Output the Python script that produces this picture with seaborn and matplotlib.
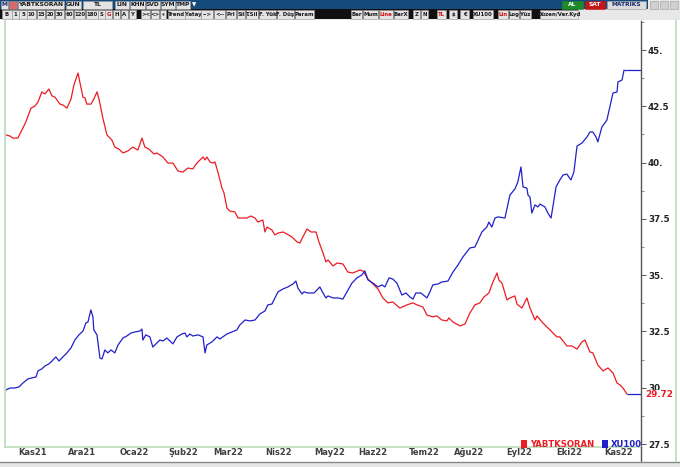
import numpy as np
import pandas as pd
import seaborn as sns
import matplotlib
matplotlib.use("Agg")
import matplotlib.pyplot as plt
from matplotlib.patches import Rectangle, Patch
import matplotlib.transforms as mtransforms

# ---------------- data (trading-day index, value) ----------------
red_day = [0, 1.8, 3.1, 5.3, 7.1, 8.8, 11.1, 12.8, 14.2, 15.9, 17.3, 19.0, 20.4, 21.7, 23.9, 25.2,
           27.0, 28.8, 30.1, 31.9, 32.7, 34.1, 35.0, 35.8, 37.6, 38.5, 40.3, 41.2, 42.9, 44.7, 46.9,
           48.2, 50.0, 51.8, 54.0, 56.2, 58.4, 60.2, 61.5, 63.3, 65.5, 66.8, 69.5, 71.7, 73.9, 76.1,
           78.3, 80.5, 82.7, 84.5, 87.2, 88.1, 88.9, 90.3, 91.6, 92.5, 93.8, 95.6, 96.5, 97.8, 99.1,
           101.3, 102.7, 104.4, 106.6, 108.4, 110.2, 111.5, 113.7, 114.6, 115.5, 117.7, 119.0, 120.4,
           122.6, 124.3, 126.5, 128.8, 130.1, 131.4, 133.2, 135.0, 137.2, 138.5, 140.3, 141.6, 142.5,
           144.7, 146.5, 149.1, 151.3, 153.5, 156.6, 158.0, 160.2, 162.4, 164.6, 166.8, 169.0, 171.2,
           174.3, 177.4, 180.1, 181.9, 184.5, 186.3, 188.9, 190.7, 192.9, 195.1, 196.0, 197.8, 200.9,
           203.1, 205.3, 207.5, 209.7, 211.5, 213.7, 215.5, 217.3, 218.1, 219.5, 221.7, 223.0, 225.2,
           226.1, 228.3, 230.5, 231.9, 234.1, 235.0, 237.2, 239.4, 241.6, 243.8, 245.1, 248.2, 250.4,
           252.7, 254.9, 256.2, 258.4, 259.7, 261.9, 264.2, 266.4, 268.6, 270.4, 271.7, 273.0, 274.8]
red_val = [41.23, 41.18, 41.09, 41.09, 41.45, 41.80, 42.42, 42.51, 42.69, 43.14, 43.05, 43.27, 42.96,
           42.91, 42.60, 42.56, 42.42, 42.82, 43.45, 43.98, 43.58, 42.91, 42.87, 42.60, 42.60, 42.74,
           43.14, 42.82, 41.98, 41.23, 41.00, 40.69, 40.60, 40.43, 40.52, 40.69, 40.56, 41.09, 40.69,
           40.60, 40.38, 40.43, 40.25, 39.98, 39.98, 39.63, 39.58, 39.76, 39.72, 39.98, 40.25, 40.12,
           40.25, 40.03, 39.98, 40.03, 39.58, 38.87, 38.65, 37.98, 37.85, 37.81, 37.54, 37.54, 37.54,
           37.63, 37.54, 37.36, 37.45, 36.92, 37.14, 37.01, 36.79, 36.87, 36.92, 36.83, 36.70, 36.48,
           36.43, 36.70, 37.05, 36.92, 36.92, 36.48, 35.99, 35.59, 35.68, 35.41, 35.54, 35.50, 35.14,
           35.10, 35.23, 35.19, 34.83, 34.61, 34.39, 33.99, 33.77, 33.81, 33.54, 33.68, 33.77, 33.68,
           33.59, 33.23, 33.15, 33.19, 33.01, 32.97, 33.10, 32.92, 32.75, 32.83, 33.32, 33.68, 33.77,
           34.03, 34.21, 34.70, 35.10, 34.79, 34.65, 33.90, 33.99, 34.08, 33.72, 33.54, 33.99, 33.54,
           33.01, 33.19, 32.92, 32.70, 32.48, 32.26, 32.26, 31.86, 31.86, 31.72, 32.04, 32.12, 31.59,
           31.55, 31.01, 30.75, 30.88, 30.66, 30.21, 30.13, 29.99, 29.72]

blue_day = [0, 1.8, 4.0, 5.8, 7.5, 9.7, 11.5, 13.3, 14.2, 15.9, 17.3, 19.0, 20.4, 22.1, 23.5, 25.2,
            27.0, 28.8, 30.5, 32.3, 34.1, 35.4, 36.3, 37.6, 38.5, 38.9, 40.3, 41.6, 42.5, 43.8, 45.1,
            46.5, 48.2, 49.6, 51.8, 53.5, 55.3, 57.1, 59.3, 60.2, 60.6, 61.9, 63.7, 65.0, 66.8, 68.1,
            69.5, 71.2, 73.9, 75.7, 77.9, 79.2, 80.1, 81.4, 82.7, 85.0, 87.2, 88.1, 88.9, 91.2, 93.4,
            94.7, 97.8, 100.0, 102.2, 103.5, 105.8, 108.0, 110.2, 112.4, 114.6, 115.9, 117.7, 120.4,
            122.6, 124.8, 127.0, 128.3, 129.2, 131.0, 131.9, 133.6, 136.3, 137.6, 138.9, 140.3, 141.6,
            142.5, 144.7, 146.9, 149.1, 150.9, 153.1, 155.3, 157.5, 158.8, 160.2, 162.4, 164.6, 166.4,
            167.7, 169.5, 171.2, 173.0, 175.2, 177.0, 178.8, 180.1, 181.4, 183.6, 186.3, 187.6, 188.9,
            191.2, 192.9, 195.6, 197.8, 200.0, 202.2, 205.3, 207.5, 210.6, 212.8, 213.7, 215.0, 216.4,
            217.7, 220.8, 223.0, 225.2, 226.5, 227.9, 228.8, 230.5, 231.0, 231.9, 232.7, 234.1, 235.4,
            236.3, 238.5, 239.8, 241.2, 242.0, 243.4, 245.1, 246.5, 248.2, 250.0, 251.3, 252.7, 254.9,
            257.1, 258.4, 259.7, 261.1, 261.9, 263.7, 265.9, 267.7, 268.6, 270.4, 270.8, 272.6, 273.5]
blue_val = [29.90, 29.99, 29.99, 30.04, 30.21, 30.39, 30.44, 30.48, 30.75, 30.84, 30.97, 31.06, 31.19,
            31.37, 31.19, 31.37, 31.55, 31.77, 32.12, 32.35, 32.52, 32.88, 32.92, 33.46, 33.15, 32.57,
            32.35, 31.32, 31.28, 31.68, 31.55, 31.68, 31.55, 31.90, 32.21, 32.30, 32.43, 32.48, 32.52,
            32.61, 32.12, 32.35, 32.26, 31.81, 31.99, 32.12, 32.08, 32.21, 31.95, 32.26, 32.39, 32.43,
            32.26, 32.39, 32.30, 32.35, 32.26, 31.55, 31.90, 32.04, 32.26, 32.17, 32.39, 32.48, 32.57,
            32.79, 33.01, 32.97, 33.01, 33.28, 33.41, 33.68, 33.72, 34.26, 34.39, 34.48, 34.61, 34.74,
            34.43, 34.17, 34.26, 34.21, 34.21, 34.34, 34.48, 34.21, 33.99, 34.08, 33.99, 33.99, 33.94,
            34.26, 34.65, 34.88, 35.01, 35.19, 34.79, 34.65, 34.48, 34.57, 34.48, 34.88, 34.83, 34.65,
            34.12, 34.21, 34.03, 33.94, 34.21, 34.21, 33.99, 34.26, 34.57, 34.61, 34.70, 34.74, 35.14,
            35.45, 35.81, 36.21, 36.25, 36.92, 37.14, 37.36, 37.14, 37.54, 37.59, 37.54, 38.56, 38.83,
            39.14, 39.81, 38.92, 38.87, 38.56, 38.47, 37.76, 38.12, 38.03, 38.16, 38.03, 37.76, 37.54,
            38.03, 38.92, 39.23, 39.45, 39.49, 39.23, 39.58, 40.74, 40.87, 41.14, 41.36, 41.36, 41.14,
            40.92, 41.58, 41.89, 42.69, 43.09, 43.14, 43.58, 43.67, 44.11]

month_pos = [4.4, 26.5, 49.6, 70.8, 90.7, 113.7, 135.4, 154.9, 177.4, 197.3, 220.4, 242.5, 263.7]
month_labels = ["Kas21", "Ara21", "Oca22", "Şub22", "Mar22", "Nis22", "May22", "Haz22",
                "Tem22", "Ağu22", "Eyl22", "Eki22", "Kas22"]
y_ticks = [27.5, 30.0, 32.5, 35.0, 37.5, 40.0, 42.5, 45.0]
series_names = ["YABTKSORAN", "XU100"]
last_label = "29.72"

RED = "#ec1c24"
BLUE = "#2020c8"

# ---------------- figure ----------------
sns.set_style("white")
plt.rcParams["font.family"] = ["DejaVu Sans"]
W, H = 680, 467
fig = plt.figure(figsize=(W / 100, H / 100), dpi=100)
fig.patch.set_facecolor("white")

def fx(px):
    return px / W

def fy(py):
    return 1 - py / H

ax = fig.add_axes([fx(5), fy(447), (641 - 5) / W, (447 - 21) / H])
ax.set_facecolor("white")

red_df = pd.DataFrame({"day": red_day, "value": red_val})
blue_df = pd.DataFrame({"day": blue_day, "value": blue_val})
sns.lineplot(data=red_df, x="day", y="value", ax=ax, color=RED, lw=0.9,
             estimator=None, sort=False)
sns.lineplot(data=blue_df, x="day", y="value", ax=ax, color=BLUE, lw=0.9,
             estimator=None, sort=False)

XMAX = 281.0
ax.hlines(blue_val[-1], blue_day[-1], XMAX, color=BLUE, lw=0.9)
ax.hlines(red_val[-1], red_day[-1], XMAX, color=BLUE, lw=0.9)

ax.set_xlim(-0.4, XMAX)
ax.set_ylim(27.37, 46.29)
ax.set_xlabel("")
ax.set_ylabel("")

# spines
ax.spines["top"].set_visible(False)
ax.spines["left"].set_color("#b9dcb9")
ax.spines["left"].set_linewidth(1.2)
ax.spines["bottom"].set_color("#b9dcb9")
ax.spines["bottom"].set_linewidth(1.2)
ax.spines["right"].set_color("#555555")
ax.spines["right"].set_linewidth(1.0)

# right y axis
ax.yaxis.tick_right()
ax.set_yticks(y_ticks)
ax.set_yticklabels([f"{int(v)}." if float(v).is_integer() else f"{v:.1f}" for v in y_ticks],
                   fontsize=6.3, fontweight="bold", color="#222222")
ax.set_yticks([v + 1.25 for v in y_ticks], minor=True)
ax.tick_params(axis="y", which="major", direction="out", length=3.5, width=0.7,
               color="#555555", pad=1.5, left=False, right=True)
ax.tick_params(axis="y", which="minor", direction="out", length=2.5, width=0.6,
               color="#777777", left=False, right=True)

# x axis month labels: tick line then label to its right
ax.set_xticks(month_pos)
ax.set_xticklabels(month_labels, ha="left", fontsize=6.0, fontweight="bold", color="#3f3f3f")
ax.tick_params(axis="x", direction="out", length=7.5, width=0.7, color="#666666", pad=-6.5)
off = mtransforms.ScaledTranslation(1.5 / 72, 0, fig.dpi_scale_trans)
for lab in ax.get_xticklabels():
    lab.set_transform(lab.get_transform() + off)

# last value label (covers the lower part of the "30." tick label, as in the reference)
tr = mtransforms.blended_transform_factory(ax.transAxes, ax.transData)
ax.text(1.006, red_val[-1] - 0.04, last_label, transform=tr, color=RED, fontsize=6.3,
        fontweight="bold", va="center", ha="left", zorder=10,
        bbox=dict(facecolor="white", edgecolor="none", pad=0.3), clip_on=False)

# legend
handles = [Patch(facecolor=RED, edgecolor="none"), Patch(facecolor=BLUE, edgecolor="none")]
leg = ax.legend(handles, series_names, loc="lower left", bbox_to_anchor=(0.806, -0.012),
                ncol=2, frameon=False, handlelength=0.75, handleheight=1.05,
                handletextpad=0.3, columnspacing=0.9, borderaxespad=0,
                prop={"size": 6.1, "weight": "bold"})
for t, c in zip(leg.get_texts(), [RED, BLUE]):
    t.set_color(c)

# extend right axis line down through label strip
fig.add_artist(plt.Line2D([fx(641), fx(641)], [fy(447), fy(461)], color="#555555", lw=1.0))
# window borders
fig.add_artist(plt.Line2D([fx(676), fx(676)], [fy(20), fy(461)], color="#b9dcb9", lw=1.2))
fig.add_artist(Rectangle((0, 0), 1, fy(462), transform=fig.transFigure,
                         facecolor="#e6e6e6", edgecolor="none"))
fig.add_artist(plt.Line2D([0, 1], [fy(462), fy(462)], color="#888888", lw=1.0))

# ---------------- toolbar ----------------
def band(x0, y0, x1, y1, color):
    fig.add_artist(Rectangle((fx(x0), fy(y1)), (x1 - x0) / W, (y1 - y0) / H,
                             transform=fig.transFigure, facecolor=color, edgecolor="none"))

def button(x0, x1, y0, y1, text, color="#1a1a1a", face="#e4e4e4", edge="#9a9a9a", size=4.3):
    fig.add_artist(Rectangle((fx(x0), fy(y1)), (x1 - x0) / W, (y1 - y0) / H,
                             transform=fig.transFigure, facecolor=face, edgecolor=edge, lw=0.4))
    fig.text(fx((x0 + x1) / 2), fy((y0 + y1) / 2), text, ha="center", va="center",
             fontsize=size, fontweight="bold", color=color)

band(0, 0, 680, 20, "#e8e8e8")
band(0, 0, 648, 9, "#154a7d")
band(0, 9.5, 578, 19, "#101010")

row1 = [(1, 8, "M"), (18, 64, "YABTKSORAN"), (66, 81, "GUN"), (83, 112, "TL"),
        (115, 129, "LIN"), (130, 145, "KHN"), (146, 160, "SVD"), (161, 175, "SYM"),
        (176, 190, "TMP")]
for x0, x1, t in row1:
    button(x0, x1, 1, 8.5, t, color="#1a2a6a" if t == "M" else "#1a1a1a")
button(9, 17, 1, 8.5, "", face="#d86a6a")
fig.text(fx(194), fy(5), "▼", fontsize=4, color="white", ha="center", va="center")
button(562, 583, 1, 8.5, "AL", color="white", face="#1f8a2a", edge="#1f8a2a")
button(585, 605, 1, 8.5, "SAT", color="white", face="#c01818", edge="#c01818")
button(607, 646, 1, 8.5, "MATRIKS", color="#1a2a6a", face="#dcdcdc")
for x0 in (650, 660, 670):
    button(x0, x0 + 8, 1, 8.5, "", face="#d0d0d0")

row2 = [(2, 12, "B"), (12, 19, "1"), (19, 27, "5"), (27, 36, "10"), (37, 45, "15"),
        (46, 54, "20"), (55, 64, "30"), (65, 73, "60"), (74, 85, "120"), (86, 98, "180"),
        (98, 105, "S"), (105, 112, "G"), (113, 120, "H"), (121, 128, "A"), (129, 136, "Y"),
        (141, 150, "><"), (151, 159, "<>"), (160, 166, "*"), (168, 185, "Trend"),
        (185, 201, "Yatay"), (201, 213, "-->"), (214, 225, "<--"), (226, 236, "Prl"),
        (237, 245, "Sil"), (246, 258, "T.Sil"), (259, 276, "F. Yük"), (277, 294, "F. Düş"),
        (295, 314, "Param"), (351, 362, "Bar"), (363, 378, "Mum"), (379, 393, "Line"),
        (394, 408, "BarX"), (413, 420, "Z"), (421, 428, "N"), (437, 446, "TL"),
        (449, 457, "$"), (460, 469, "€"), (473, 493, "XU100"), (498, 508, "Lin"),
        (509, 519, "Log"), (520, 531, "Yüz"), (540, 578, "Düzen/Ver.Kyd")]
red_btns = {"G", "Line", "TL", "Lin"}
for x0, x1, t in row2:
    button(x0, x1, 10.5, 18.5, t, color="#d01010" if t in red_btns else "#1a1a1a", size=3.9)

fig.savefig("out.png", dpi=100)
